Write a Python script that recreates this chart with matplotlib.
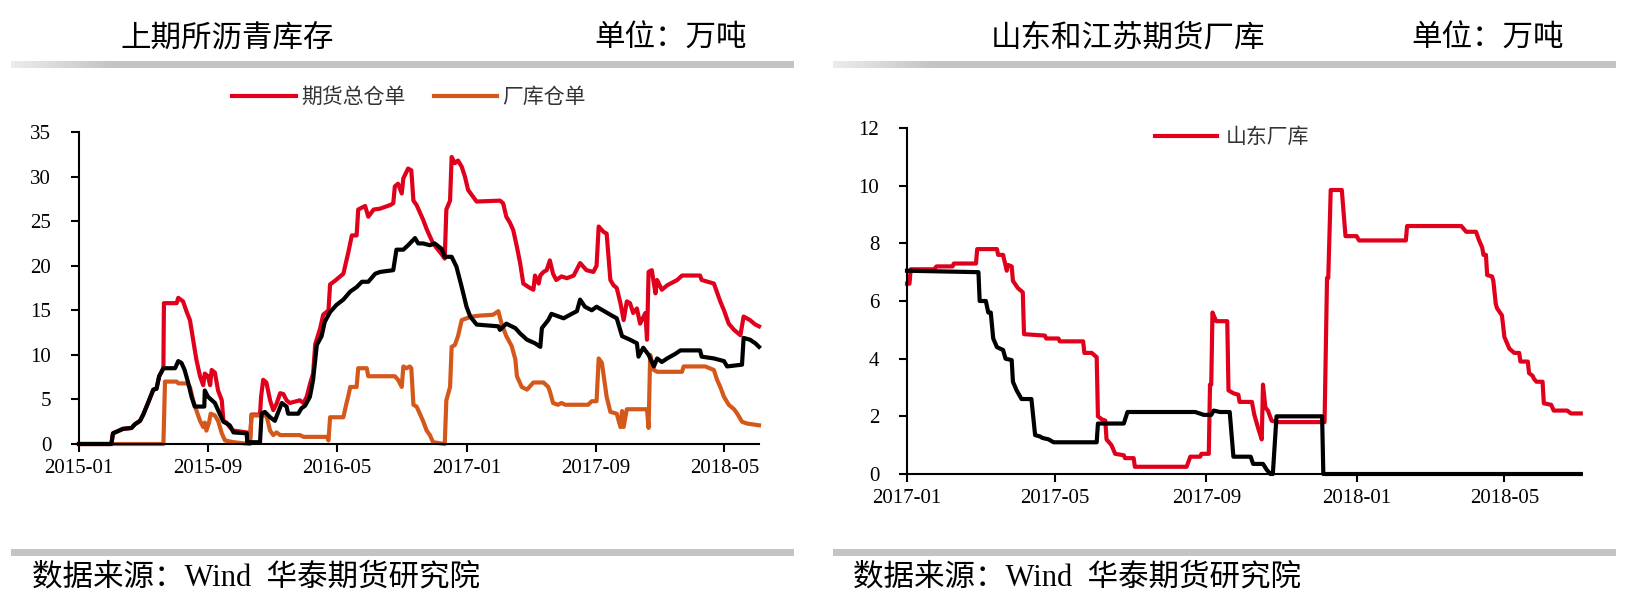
import numpy as np
import pandas as pd
import matplotlib
matplotlib.use("Agg")
import matplotlib.pyplot as plt
import matplotlib.dates as mdates
from matplotlib.colors import to_rgb

plt.rcParams['font.family'] = ['Liberation Serif', 'Noto Sans CJK SC']

RED = "#E0001B"
ORANGE = "#D4581A"
GRAY = "#C4C4C4"
CJK = ['Noto Sans CJK SC', 'DejaVu Sans']

# ---- 上期所沥青库存 (万吨) ----
total = [  # 期货总仓单
    ("2015-01-01", 0), ("2015-03-03", 0), ("2015-03-06", 1.2), ("2015-03-25", 1.7),
    ("2015-04-10", 1.8), ("2015-04-16", 2.2), ("2015-04-26", 2.6), ("2015-05-02", 3.3),
    ("2015-05-11", 4.6), ("2015-05-21", 6.1), ("2015-05-27", 6.2), ("2015-06-01", 7.6),
    ("2015-06-09", 8.5), ("2015-06-10", 15.8), ("2015-07-04", 15.8), ("2015-07-07", 16.4),
    ("2015-07-16", 16.0), ("2015-07-23", 14.8), ("2015-07-29", 13.9), ("2015-08-04", 11.7),
    ("2015-08-10", 9.5), ("2015-08-17", 7.6), ("2015-08-23", 6.6), ("2015-08-26", 7.9),
    ("2015-09-01", 7.6), ("2015-09-05", 6.6), ("2015-09-08", 8.3), ("2015-09-14", 8.0),
    ("2015-09-20", 6.0), ("2015-09-27", 4.9), ("2015-09-30", 2.6), ("2015-10-06", 2.4),
    ("2015-10-12", 1.9), ("2015-10-19", 1.5), ("2015-11-13", 1.3), ("2015-11-14", 0.2),
    ("2015-11-19", 0.2), ("2015-11-22", 3.3), ("2015-12-08", 3.3), ("2015-12-10", 5.3),
    ("2015-12-14", 7.2), ("2015-12-20", 6.9), ("2015-12-27", 4.9), ("2016-01-02", 3.8),
    ("2016-01-08", 4.5), ("2016-01-15", 5.7), ("2016-01-21", 5.6), ("2016-01-27", 4.9),
    ("2016-02-02", 4.6), ("2016-02-21", 4.9), ("2016-02-28", 4.6), ("2016-03-05", 5.3),
    ("2016-03-11", 6.7), ("2016-03-17", 7.9), ("2016-03-21", 11.2), ("2016-03-30", 12.9),
    ("2016-04-05", 14.5), ("2016-04-15", 15.0), ("2016-04-18", 17.9), ("2016-04-27", 18.3),
    ("2016-05-13", 19.1), ("2016-05-22", 21.4), ("2016-05-29", 23.4), ("2016-06-07", 23.4),
    ("2016-06-10", 26.3), ("2016-06-23", 26.7), ("2016-06-29", 25.5), ("2016-07-09", 26.3),
    ("2016-07-21", 26.4), ("2016-08-09", 26.8), ("2016-08-15", 27.0), ("2016-08-18", 28.9),
    ("2016-08-24", 29.2), ("2016-08-31", 28.1), ("2016-09-03", 29.8), ("2016-09-12", 30.9),
    ("2016-09-18", 30.7), ("2016-09-22", 27.3), ("2016-09-28", 26.8), ("2016-10-10", 25.2),
    ("2016-10-17", 24.1), ("2016-10-23", 23.3), ("2016-10-29", 22.5), ("2016-11-14", 21.3),
    ("2016-11-20", 20.8), ("2016-11-23", 26.3), ("2016-11-30", 27.3), ("2016-12-03", 32.2),
    ("2016-12-09", 31.5), ("2016-12-15", 31.8), ("2016-12-22", 31.1), ("2016-12-28", 30.0),
    ("2017-01-03", 28.5), ("2017-01-13", 27.7), ("2017-01-19", 27.2), ("2017-03-04", 27.3),
    ("2017-03-10", 27.0), ("2017-03-16", 25.5), ("2017-03-23", 24.8), ("2017-03-29", 24.0),
    ("2017-04-05", 22.1), ("2017-04-11", 20.3), ("2017-04-17", 18.0), ("2017-04-27", 17.6),
    ("2017-05-06", 17.3), ("2017-05-09", 18.9), ("2017-05-16", 18.0), ("2017-05-19", 18.9),
    ("2017-05-25", 19.3), ("2017-05-31", 19.5), ("2017-06-06", 20.6), ("2017-06-12", 19.1),
    ("2017-06-18", 18.4), ("2017-06-28", 18.8), ("2017-07-08", 18.6), ("2017-07-21", 18.9),
    ("2017-08-02", 20.3), ("2017-08-08", 19.9), ("2017-08-14", 19.5), ("2017-08-27", 19.3),
    ("2017-09-02", 20.0), ("2017-09-06", 24.4), ("2017-09-15", 23.8), ("2017-09-21", 23.6),
    ("2017-09-28", 18.4), ("2017-10-04", 17.8), ("2017-10-10", 17.5), ("2017-10-17", 15.8),
    ("2017-10-23", 13.9), ("2017-10-29", 16.0), ("2017-11-04", 15.8), ("2017-11-10", 14.7),
    ("2017-11-17", 15.2), ("2017-11-23", 13.5), ("2017-12-03", 14.7), ("2017-12-06", 11.7),
    ("2017-12-09", 19.3), ("2017-12-15", 19.5), ("2017-12-22", 16.9), ("2017-12-25", 18.4),
    ("2018-01-03", 17.3), ("2018-01-13", 17.8), ("2018-02-01", 18.4), ("2018-02-10", 18.9),
    ("2018-03-16", 18.9), ("2018-03-19", 18.4), ("2018-04-11", 18.0), ("2018-04-23", 16.0),
    ("2018-04-30", 15.0), ("2018-05-09", 13.5), ("2018-05-19", 12.8), ("2018-05-31", 12.2),
    ("2018-06-06", 14.3), ("2018-06-18", 13.9), ("2018-06-28", 13.4), ("2018-07-05", 13.2),
]

factory = [  # 厂库仓单
    ("2015-01-01", 0), ("2015-06-09", 0), ("2015-06-12", 7.0), ("2015-07-04", 7.0),
    ("2015-07-07", 6.8), ("2015-07-23", 6.8), ("2015-07-29", 6.4), ("2015-08-04", 4.9),
    ("2015-08-10", 3.8), ("2015-08-17", 2.6), ("2015-08-23", 1.9), ("2015-08-26", 2.4),
    ("2015-08-29", 1.5), ("2015-09-03", 2.4), ("2015-09-06", 3.4), ("2015-09-14", 3.2),
    ("2015-09-20", 2.6), ("2015-09-27", 1.2), ("2015-10-03", 0.4), ("2015-10-19", 0.2),
    ("2015-11-19", 0), ("2015-11-22", 3.2), ("2015-12-20", 3.2), ("2015-12-27", 1.5),
    ("2016-01-02", 1.0), ("2016-01-08", 1.3), ("2016-01-15", 1.0), ("2016-02-21", 1.0),
    ("2016-02-28", 0.8), ("2016-04-12", 0.8), ("2016-04-15", 0.4), ("2016-04-18", 3.0),
    ("2016-05-13", 3.0), ("2016-05-19", 4.6), ("2016-05-22", 5.3), ("2016-05-26", 6.4),
    ("2016-06-07", 6.4), ("2016-06-10", 8.5), ("2016-06-26", 8.5), ("2016-06-29", 7.6),
    ("2016-08-18", 7.6), ("2016-08-24", 7.2), ("2016-08-31", 6.4), ("2016-09-03", 8.7),
    ("2016-09-09", 8.5), ("2016-09-15", 8.7), ("2016-09-18", 8.5), ("2016-09-22", 4.4),
    ("2016-09-28", 4.2), ("2016-10-04", 3.4), ("2016-10-10", 2.6), ("2016-10-17", 1.5),
    ("2016-10-23", 1.0), ("2016-10-29", 0.2), ("2016-11-20", 0), ("2016-11-23", 4.9),
    ("2016-11-30", 6.4), ("2016-12-03", 10.9), ("2016-12-09", 11.1), ("2016-12-15", 12.1),
    ("2016-12-22", 13.9), ("2016-12-31", 14.1), ("2017-01-10", 14.3), ("2017-01-25", 14.4),
    ("2017-02-19", 14.5), ("2017-03-01", 14.9), ("2017-03-07", 13.5), ("2017-03-16", 12.1),
    ("2017-03-26", 11.0), ("2017-04-02", 9.5), ("2017-04-05", 7.6), ("2017-04-14", 6.4),
    ("2017-04-24", 6.1), ("2017-05-06", 6.9), ("2017-05-25", 6.9), ("2017-06-03", 6.4),
    ("2017-06-06", 5.9), ("2017-06-12", 4.6), ("2017-06-21", 4.4), ("2017-06-28", 4.6),
    ("2017-07-05", 4.4), ("2017-08-17", 4.4), ("2017-08-24", 4.8), ("2017-09-02", 4.8),
    ("2017-09-06", 9.6), ("2017-09-12", 9.1), ("2017-09-21", 5.3), ("2017-09-28", 3.6),
    ("2017-10-10", 3.4), ("2017-10-17", 1.9), ("2017-10-20", 3.7), ("2017-10-23", 1.9),
    ("2017-10-29", 3.9), ("2017-12-06", 3.9), ("2017-12-09", 1.8), ("2017-12-12", 10.0),
    ("2017-12-19", 8.3), ("2017-12-25", 8.1), ("2018-02-10", 8.1), ("2018-02-13", 8.7),
    ("2018-03-26", 8.7), ("2018-04-11", 8.3), ("2018-04-17", 7.2), ("2018-04-23", 6.4),
    ("2018-04-30", 5.3), ("2018-05-09", 4.4), ("2018-05-19", 3.9), ("2018-05-25", 3.4),
    ("2018-06-03", 2.5), ("2018-06-12", 2.3), ("2018-07-05", 2.1),
]

warehouse = [  # black line, no legend entry
    ("2015-01-01", 0), ("2015-03-03", 0), ("2015-03-06", 1.2), ("2015-03-25", 1.7),
    ("2015-04-10", 1.8), ("2015-04-16", 2.2), ("2015-04-26", 2.6), ("2015-05-02", 3.3),
    ("2015-05-11", 4.6), ("2015-05-21", 6.1), ("2015-05-27", 6.2), ("2015-06-01", 7.6),
    ("2015-06-09", 8.5), ("2015-07-01", 8.5), ("2015-07-07", 9.3), ("2015-07-13", 9.1),
    ("2015-07-19", 8.3), ("2015-07-26", 6.8), ("2015-08-01", 5.3), ("2015-08-07", 4.2),
    ("2015-08-25", 4.2), ("2015-08-26", 6.0), ("2015-09-01", 5.3), ("2015-09-14", 4.6),
    ("2015-09-23", 3.4), ("2015-09-30", 2.5), ("2015-10-12", 2.1), ("2015-10-19", 1.3),
    ("2015-11-13", 1.2), ("2015-11-14", 0.2), ("2015-12-08", 0.2), ("2015-12-11", 3.4),
    ("2015-12-17", 3.6), ("2015-12-27", 3.0), ("2016-01-05", 2.6), ("2016-01-18", 4.6),
    ("2016-01-27", 4.2), ("2016-01-30", 3.4), ("2016-02-18", 3.4), ("2016-02-24", 4.0),
    ("2016-03-02", 4.3), ("2016-03-11", 5.3), ("2016-03-17", 7.2), ("2016-03-24", 11.1),
    ("2016-04-02", 12.1), ("2016-04-08", 13.7), ("2016-04-18", 14.8), ("2016-04-30", 15.6),
    ("2016-05-13", 16.2), ("2016-05-26", 17.1), ("2016-06-07", 17.6), ("2016-06-17", 18.2),
    ("2016-06-29", 18.2), ("2016-07-12", 19.1), ("2016-07-21", 19.3), ("2016-08-15", 19.5),
    ("2016-08-21", 21.8), ("2016-09-03", 21.8), ("2016-09-12", 22.3), ("2016-09-25", 23.1),
    ("2016-10-01", 22.5), ("2016-10-10", 22.5), ("2016-10-23", 22.3), ("2016-11-01", 22.5),
    ("2016-11-14", 21.9), ("2016-11-20", 21.0), ("2016-12-03", 21.0), ("2016-12-12", 19.9),
    ("2016-12-22", 17.6), ("2016-12-31", 15.4), ("2017-01-07", 14.3), ("2017-01-19", 13.4),
    ("2017-03-01", 13.2), ("2017-03-04", 12.8), ("2017-03-16", 13.5), ("2017-03-26", 13.2),
    ("2017-04-02", 13.0), ("2017-04-11", 12.4), ("2017-04-24", 11.7), ("2017-05-09", 11.3),
    ("2017-05-19", 10.9), ("2017-05-22", 13.0), ("2017-06-03", 13.9), ("2017-06-09", 14.6),
    ("2017-07-02", 14.1), ("2017-07-14", 14.5), ("2017-07-27", 14.9), ("2017-08-02", 16.2),
    ("2017-08-11", 15.4), ("2017-08-24", 15.0), ("2017-09-02", 15.4), ("2017-09-28", 14.5),
    ("2017-10-10", 14.1), ("2017-10-20", 12.1), ("2017-11-04", 11.7), ("2017-11-17", 11.3),
    ("2017-11-20", 9.8), ("2017-11-29", 10.8), ("2017-12-09", 10.0), ("2017-12-19", 8.7),
    ("2017-12-25", 9.6), ("2018-01-03", 9.2), ("2018-01-13", 9.6), ("2018-01-28", 10.1),
    ("2018-02-07", 10.5), ("2018-03-16", 10.5), ("2018-03-19", 9.8), ("2018-04-11", 9.6),
    ("2018-04-30", 9.3), ("2018-05-06", 8.7), ("2018-06-03", 8.9), ("2018-06-06", 11.9),
    ("2018-06-18", 11.7), ("2018-06-28", 11.3), ("2018-07-05", 10.9),
]

# ---- 山东和江苏期货厂库 (万吨) ----
shandong = [  # 山东厂库
    ("2017-01-01", 6.6), ("2017-01-03", 6.6), ("2017-01-04", 7.1), ("2017-01-23", 7.1),
    ("2017-01-25", 7.2), ("2017-02-07", 7.2), ("2017-02-08", 7.3), ("2017-02-26", 7.3),
    ("2017-02-27", 7.8), ("2017-03-15", 7.8), ("2017-03-16", 7.6), ("2017-03-20", 7.6),
    ("2017-03-23", 7.05), ("2017-03-24", 7.25), ("2017-03-27", 7.2), ("2017-03-28", 6.7),
    ("2017-04-01", 6.45), ("2017-04-05", 6.3), ("2017-04-06", 4.85), ("2017-04-23", 4.8),
    ("2017-04-24", 4.7), ("2017-05-04", 4.7), ("2017-05-05", 4.6), ("2017-05-24", 4.6),
    ("2017-05-25", 4.2), ("2017-05-31", 4.2), ("2017-06-04", 4.05), ("2017-06-05", 2.0),
    ("2017-06-08", 1.9), ("2017-06-11", 1.85), ("2017-06-12", 1.2), ("2017-06-16", 1.0),
    ("2017-06-19", 0.7), ("2017-06-26", 0.65), ("2017-06-27", 0.55), ("2017-07-04", 0.55),
    ("2017-07-05", 0.25), ("2017-08-16", 0.25), ("2017-08-19", 0.6), ("2017-08-27", 0.6),
    ("2017-08-28", 0.7), ("2017-09-03", 0.7), ("2017-09-04", 3.1), ("2017-09-05", 3.1),
    ("2017-09-06", 5.6), ("2017-09-09", 5.3), ("2017-09-18", 5.3), ("2017-09-19", 2.9),
    ("2017-09-23", 2.8), ("2017-09-27", 2.75), ("2017-09-28", 2.5), ("2017-10-08", 2.5),
    ("2017-10-10", 2.05), ("2017-10-13", 1.6), ("2017-10-16", 1.2), ("2017-10-17", 3.1),
    ("2017-10-19", 2.3), ("2017-10-21", 2.2), ("2017-10-24", 1.85), ("2017-10-28", 1.8),
    ("2017-12-06", 1.8), ("2017-12-08", 6.8), ("2017-12-09", 6.8), ("2017-12-11", 9.85),
    ("2017-12-20", 9.85), ("2017-12-23", 8.25), ("2018-01-01", 8.25), ("2018-01-03", 8.1),
    ("2018-02-10", 8.1), ("2018-02-11", 8.6), ("2018-03-27", 8.6), ("2018-03-31", 8.4),
    ("2018-04-08", 8.4), ("2018-04-10", 8.15), ("2018-04-13", 7.85), ("2018-04-14", 7.6),
    ("2018-04-16", 7.6), ("2018-04-17", 6.9), ("2018-04-21", 6.85), ("2018-04-22", 6.7),
    ("2018-04-24", 5.9), ("2018-04-25", 5.75), ("2018-04-29", 5.5), ("2018-05-01", 4.75),
    ("2018-05-05", 4.35), ("2018-05-09", 4.2), ("2018-05-13", 4.2), ("2018-05-14", 3.9),
    ("2018-05-20", 3.9), ("2018-05-21", 3.5), ("2018-05-24", 3.4), ("2018-05-25", 3.3),
    ("2018-05-27", 3.2), ("2018-06-01", 3.2), ("2018-06-02", 2.45), ("2018-06-08", 2.4),
    ("2018-06-10", 2.2), ("2018-06-21", 2.2), ("2018-06-24", 2.1), ("2018-07-02", 2.1),
]

jiangsu = [  # black line, no legend entry
    ("2017-01-01", 7.05), ("2017-02-28", 7.0), ("2017-03-01", 6.0), ("2017-03-06", 6.0),
    ("2017-03-08", 5.6), ("2017-03-10", 5.6), ("2017-03-12", 4.7), ("2017-03-15", 4.4),
    ("2017-03-20", 4.3), ("2017-03-22", 4.0), ("2017-03-27", 3.95), ("2017-03-28", 3.2),
    ("2017-03-31", 2.9), ("2017-04-04", 2.6), ("2017-04-12", 2.6), ("2017-04-15", 1.35),
    ("2017-04-19", 1.3), ("2017-04-21", 1.25), ("2017-04-26", 1.2), ("2017-04-30", 1.1),
    ("2017-06-04", 1.1), ("2017-06-05", 1.75), ("2017-06-26", 1.75), ("2017-06-29", 2.15),
    ("2017-08-23", 2.15), ("2017-08-30", 2.05), ("2017-09-05", 2.05), ("2017-09-07", 2.2),
    ("2017-09-12", 2.15), ("2017-09-20", 2.15), ("2017-09-23", 0.6), ("2017-10-07", 0.6),
    ("2017-10-09", 0.35), ("2017-10-17", 0.35), ("2017-10-20", 0.15), ("2017-10-23", 0),
    ("2017-10-25", 0), ("2017-10-28", 2.0), ("2017-12-04", 2.0), ("2017-12-05", 0),
    ("2018-07-02", 0),
]

left_ticks = ["2015-01-01", "2015-09-01", "2016-05-01", "2017-01-01", "2017-09-01", "2018-05-01"]
right_ticks = ["2017-01-01", "2017-05-01", "2017-09-01", "2018-01-01", "2018-05-01"]


def unzip(series):
    d, v = zip(*series)
    return pd.to_datetime(list(d)), list(v)


W, H = 1638, 610
fig = plt.figure(figsize=(W / 100, H / 100), dpi=100)


def band(x0, x1, y0, y1, fade=0):
    ax = fig.add_axes([x0 / W, 1 - y1 / H, (x1 - x0) / W, (y1 - y0) / H])
    n = int(x1 - x0)
    grad = np.tile(np.array(to_rgb(GRAY)), (n, 1))
    if fade:
        t = np.clip(np.arange(n) / fade, 0, 1)[:, None]
        grad = np.array(to_rgb("#ECECEC")) * (1 - t) + grad * t
    ax.imshow(grad[None, :, :], aspect="auto", extent=(0, 1, 0, 1))
    ax.axis("off")


# header / footer bars
band(11, 794, 61, 68, fade=100)
band(833, 1616, 61, 68, fade=100)
band(11, 794, 549, 556)
band(833, 1616, 549, 556)

ty = 1 - 38 / H
fig.text(120 / W, ty, "上期所沥青库存", fontsize=22, family=CJK, va="center", ha="left")
fig.text(747 / W, ty, "单位：万吨", fontsize=22, family=CJK, va="center", ha="right")
fig.text(991 / W, ty, "山东和江苏期货厂库", fontsize=22, family=CJK, va="center", ha="left")
fig.text(1564 / W, ty, "单位：万吨", fontsize=22, family=CJK, va="center", ha="right")

sy = 1 - 578 / H
source = "数据来源：Wind  华泰期货研究院"
fig.text(32 / W, sy, source, fontsize=22, va="center", ha="left")
fig.text(853 / W, sy, source, fontsize=22, va="center", ha="left")


def style(ax):
    for s in ["top", "right"]:
        ax.spines[s].set_visible(False)
    for s in ["left", "bottom"]:
        ax.spines[s].set_linewidth(1.5)
    ax.tick_params(axis="both", direction="out", length=6, width=1.5, labelsize=15)
    ax.tick_params(axis="y", pad=14)
    ax.tick_params(axis="x", pad=5)
    ax.xaxis.set_major_formatter(mdates.DateFormatter("%Y-%m"))


LW = 3.0

# left chart
ax1 = fig.add_axes([79 / W, 1 - 444 / H, 680 / W, 312 / H])
d, v = unzip(total)
l_tot, = ax1.plot(d, v, color=RED, lw=LW, clip_on=False)
d, v = unzip(factory)
l_fac, = ax1.plot(d, v, color=ORANGE, lw=LW, clip_on=False)
d, v = unzip(warehouse)
ax1.plot(d, v, color="black", lw=LW, clip_on=False)
ax1.set_ylim(0, 35)
ax1.set_yticks(range(0, 36, 5))
ax1.set_xlim(pd.Timestamp("2015-01-01"), pd.Timestamp("2018-07-05"))
ax1.set_xticks(pd.to_datetime(left_ticks))
style(ax1)

fig.legend([l_tot, l_fac], ["期货总仓单", "厂库仓单"], loc="center",
           bbox_to_anchor=(409 / W, 1 - 97 / H), ncol=2, frameon=False,
           handlelength=3.07, handletextpad=0.25, columnspacing=1.35,
           prop={"family": CJK, "size": 15}, labelcolor="#333333")

# right chart
ax2 = fig.add_axes([907 / W, 1 - 474 / H, 675 / W, 346 / H])
d, v = unzip(shandong)
l_sd, = ax2.plot(d, v, color=RED, lw=LW, clip_on=False)
d, v = unzip(jiangsu)
ax2.plot(d, v, color="black", lw=LW, clip_on=False)
ax2.set_ylim(0, 12)
ax2.set_yticks(range(0, 13, 2))
ax2.set_xlim(pd.Timestamp("2017-01-01"), pd.Timestamp("2018-07-03"))
ax2.set_xticks(pd.to_datetime(right_ticks))
style(ax2)

fig.legend([l_sd], ["山东厂库"], loc="center",
           bbox_to_anchor=(1232 / W, 1 - 137 / H), frameon=False,
           handlelength=2.98, handletextpad=0.38,
           prop={"family": CJK, "size": 15}, labelcolor="#333333")

fig.savefig("out.png", dpi=100)
